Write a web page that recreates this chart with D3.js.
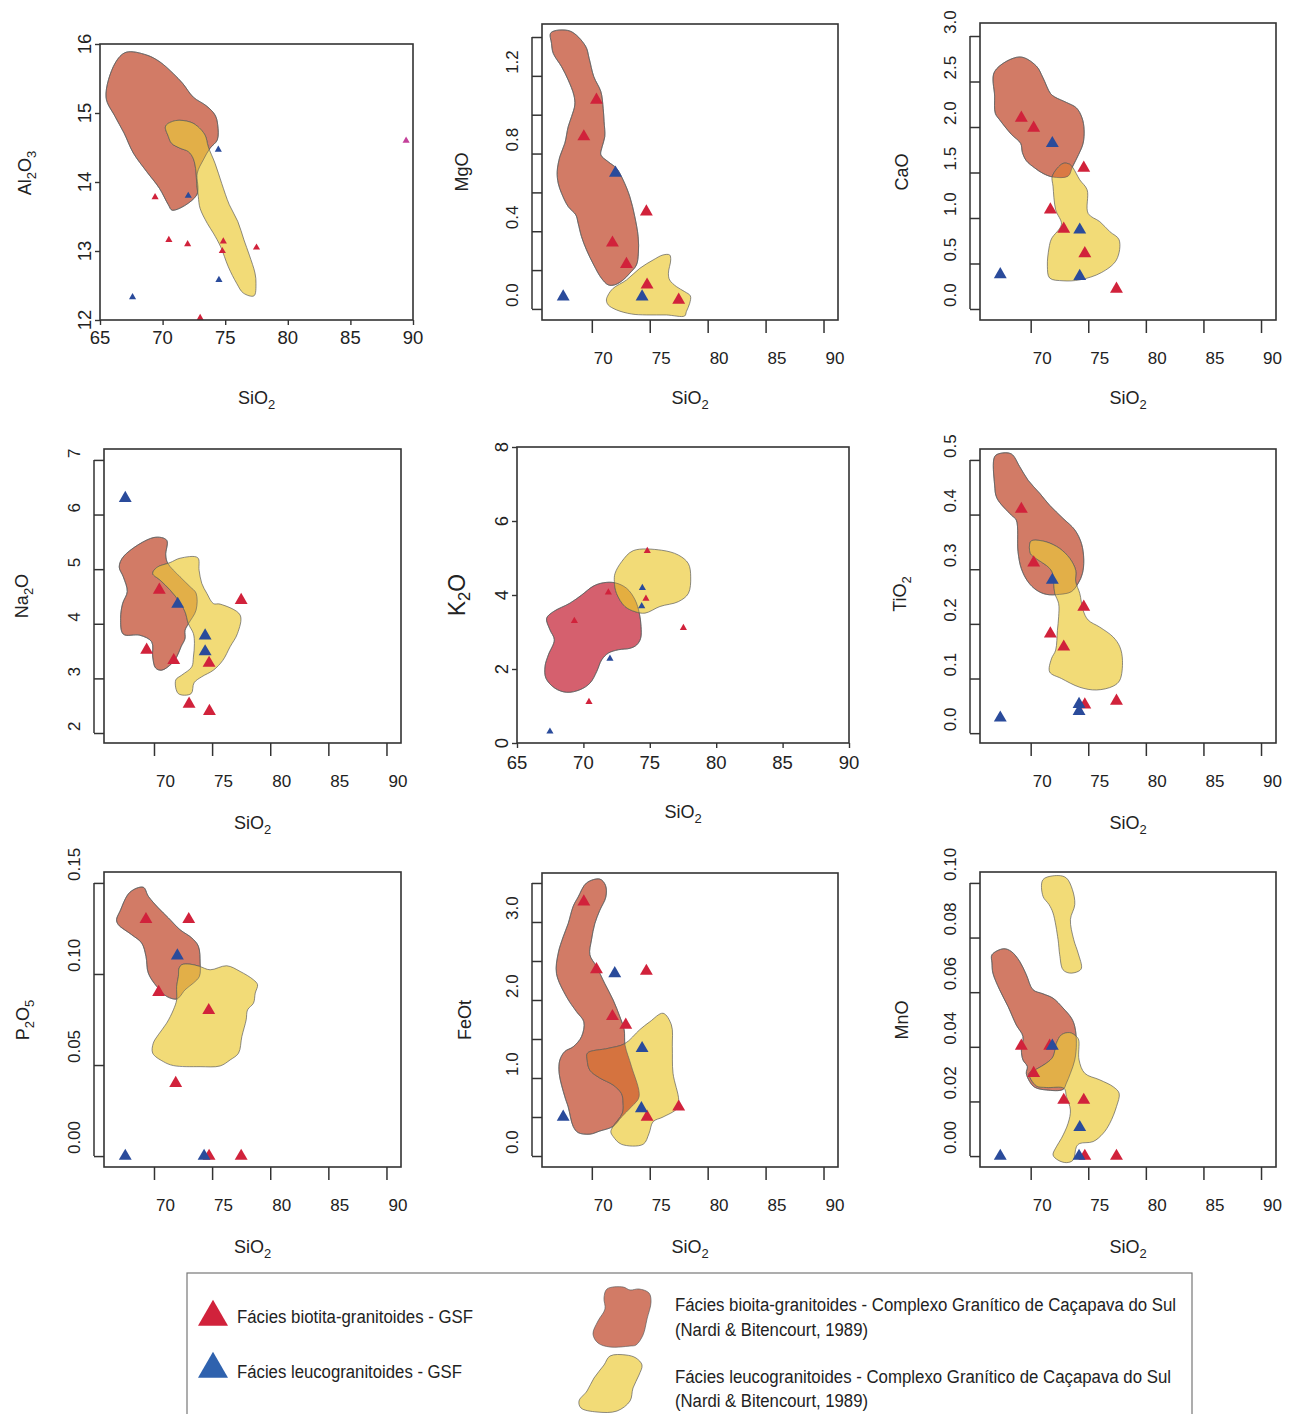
<!DOCTYPE html>
<html>
<head>
<meta charset="utf-8">
<title>Harker diagrams - GSF</title>
<script src="https://d3js.org/d3.v7.min.js"></script>
<style>
  body { margin: 0; background: #fff; }
  svg text { font-family: "Liberation Sans", Arial, Helvetica, sans-serif; fill: #222; }
</style>
</head>
<body>
<svg width="1298" height="1414"></svg>
<script>

// tick values
var siTicksA = [70, 75, 80, 85, 90];
var siTicksB = [65, 70, 75, 80, 85, 90];
var al2o3Ticks = [12, 13, 14, 15, 16];
var mgoTicks = [0, 0.2, 0.4, 0.6, 0.8, 1.0, 1.2, 1.4];
var mgoLabels = [0, 0.4, 0.8, 1.2];
var caoTicks = [0, 0.5, 1.0, 1.5, 2.0, 2.5, 3.0];
var na2oTicks = [2, 3, 4, 5, 6, 7];
var k2oTicks = [0, 2, 4, 6, 8];
var tio2Ticks = [0, 0.1, 0.2, 0.3, 0.4, 0.5];
var p2o5Ticks = [0, 0.05, 0.10, 0.15];
var feotTicks = [0, 0.5, 1.0, 1.5, 2.0, 2.5, 3.0, 3.5];
var feotLabels = [0, 1, 2, 3];
var mnoTicks = [0, 0.02, 0.04, 0.06, 0.08, 0.10];

// samples [SiO2, oxide] - GSF
var al2o3Bio = [[69.4,13.78],[70.5,13.16],[72.0,13.1],[74.85,13.14],[74.77,13.0],[77.5,13.05],[73.0,12.03]];
var al2o3Leuco = [[67.6,12.33],[72.05,13.8],[74.45,14.47],[74.5,12.58]];
var al2o3Other = [[89.45,14.6]];
var mgoBio = [[70.4,1.076],[69.31,0.887],[74.71,0.50],[71.78,0.34],[72.99,0.23],[74.77,0.124],[77.5,0.046]];
var mgoLeuco = [[72.04,0.70],[74.34,0.063],[67.53,0.063]];
var caoBio = [[69.19,2.10],[70.26,1.99],[74.61,1.55],[71.71,1.09],[72.87,0.88],[74.7,0.61],[77.45,0.22]];
var caoLeuco = [[71.88,1.82],[74.26,0.87],[67.36,0.38],[74.26,0.36]];
var na2oBio = [[70.46,4.62],[77.5,4.43],[69.37,3.52],[71.7,3.33],[74.74,3.28],[73.02,2.53],[74.77,2.40]];
var na2oLeuco = [[67.53,6.30],[72.04,4.36],[74.4,3.78],[74.4,3.49]];
var k2oBio = [[74.81,5.19],[71.88,4.07],[74.71,3.90],[69.32,3.30],[77.53,3.11],[70.42,1.11]];
var k2oLeuco = [[74.44,4.19],[74.39,3.70],[72.0,2.28],[67.48,0.31]];
var tio2Bio = [[69.19,0.410],[70.26,0.312],[74.61,0.231],[71.71,0.182],[72.87,0.158],[77.45,0.059],[74.7,0.052]];
var tio2Leuco = [[71.88,0.280],[74.2,0.053],[74.2,0.040],[67.36,0.028]];
var p2o5Bio = [[69.31,0.130],[72.99,0.130],[70.4,0.090],[74.71,0.080],[71.87,0.040],[74.74,0],[77.5,0]];
var p2o5Leuco = [[72.01,0.110],[67.53,0],[74.31,0]];
var feotBio = [[69.31,3.26],[70.4,2.39],[74.71,2.37],[71.78,1.79],[72.93,1.68],[74.77,0.50],[77.5,0.63]];
var feotLeuco = [[71.98,2.34],[74.34,1.38],[74.28,0.61],[67.53,0.50]];
var mnoBio = [[69.19,0.0403],[71.65,0.0403],[70.26,0.0303],[72.87,0.0205],[74.61,0.0205],[74.7,0],[77.45,0]];
var mnoLeuco = [[71.88,0.0403],[74.26,0.0105],[67.36,0],[74.2,0]];

// fields of Nardi & Bitencourt (1989)
var al2o3BioField = [[65.48,15.23],[66.2,15.72],[67.08,15.88],[68.73,15.84],[69.79,15.74],[70.86,15.57],[71.6,15.43],[72.45,15.23],[73.52,15.1],[74.19,14.97],[74.4,14.83],[74.37,14.61],[73.79,14.49],[73.25,14.32],[72.77,14.13],[72.72,13.81],[70.78,13.59],[70.46,13.67],[69.74,13.91],[68.73,14.15],[67.66,14.42],[66.92,14.71],[66.2,14.95]];
var al2o3LeucoField = [[[70.24,14.81],[71.04,14.89],[72.19,14.87],[72.77,14.81],[73.39,14.68],[73.65,14.51],[74.19,14.27],[74.72,13.98],[75.33,13.67],[76.0,13.43],[76.5,13.16],[76.93,12.94],[77.38,12.68],[77.46,12.53],[77.3,12.35],[76.45,12.39],[75.92,12.53],[75.25,12.77],[74.64,13.06],[74.05,13.26],[73.57,13.4],[72.99,13.62],[72.85,13.79],[72.72,13.98],[72.67,14.15],[72.45,14.34],[72.06,14.44],[71.39,14.49],[70.72,14.56],[70.46,14.66]]];
var mgoBioField = [[66.47,1.422],[68.1,1.431],[69.45,1.354],[69.77,1.29],[70.17,1.196],[70.78,1.119],[70.98,1.033],[71.06,0.964],[71.12,0.887],[70.89,0.835],[70.78,0.793],[71.41,0.758],[72.13,0.724],[72.7,0.664],[73.28,0.578],[73.71,0.475],[74.0,0.372],[74.02,0.287],[73.85,0.226],[73.28,0.184],[72.7,0.149],[71.98,0.124],[71.41,0.124],[70.83,0.158],[70.17,0.226],[69.54,0.304],[69.11,0.372],[68.82,0.441],[68.62,0.484],[67.96,0.527],[67.39,0.595],[67.1,0.647],[67.01,0.707],[67.24,0.784],[67.67,0.853],[67.96,0.938],[68.25,0.99],[68.53,1.05],[68.45,1.101],[67.96,1.179],[67.39,1.247],[66.67,1.316],[66.52,1.367]];
var mgoLeucoField = [[[71.41,0.072],[71.84,0.106],[72.99,0.149],[74.14,0.209],[75.29,0.252],[76.15,0.278],[76.72,0.278],[76.81,0.252],[76.61,0.184],[76.72,0.149],[77.3,0.115],[78.02,0.089],[78.51,0.067],[78.45,0.029],[78.16,-0.014],[78.02,-0.036],[76.44,-0.031],[74.71,-0.031],[73.42,-0.026],[72.13,-0.005],[71.41,0.021],[71.26,0.046]]];
var caoBioField = [[66.87,2.61],[69.04,2.77],[70.49,2.67],[71.07,2.54],[71.71,2.37],[72.09,2.33],[73.1,2.27],[73.97,2.21],[74.46,2.10],[74.64,1.97],[74.55,1.82],[74.17,1.70],[73.62,1.56],[73.25,1.46],[71.94,1.45],[71.07,1.49],[70.35,1.55],[69.62,1.63],[69.28,1.72],[69.13,1.82],[68.32,1.92],[67.3,2.08],[66.93,2.15],[66.87,2.34]];
var caoLeucoField = [[[71.88,1.46],[72.81,1.60],[73.39,1.59],[73.68,1.55],[74.26,1.42],[74.9,1.31],[74.99,1.05],[76.0,0.96],[76.87,0.85],[77.68,0.76],[77.45,0.54],[76.14,0.40],[74.26,0.32],[72.81,0.31],[71.65,0.34],[71.45,0.47],[71.59,0.67],[71.8,0.77],[72.67,0.93],[72.17,1.09],[71.94,1.35]]];
var na2oBioField = [[67.41,5.24],[70.0,5.58],[71.09,5.53],[71.01,5.26],[71.18,5.11],[72.24,4.86],[73.1,4.68],[73.62,4.56],[73.62,4.25],[72.96,4.00],[72.67,3.88],[72.67,3.73],[72.33,3.58],[71.95,3.39],[71.52,3.27],[70.66,3.15],[70.14,3.19],[69.89,3.39],[69.8,3.67],[68.79,3.79],[67.36,3.81],[67.13,4.10],[67.3,4.37],[67.7,4.59],[67.36,4.86],[67.01,5.04]];
var na2oLeucoField = [[[69.89,4.92],[70.23,5.03],[71.38,5.12],[72.24,5.20],[73.76,5.21],[73.88,4.98],[74.11,4.74],[74.54,4.56],[75.11,4.37],[75.69,4.36],[77.41,4.16],[77.18,3.82],[76.55,3.58],[75.92,3.33],[75.11,3.15],[74.11,3.03],[73.45,2.92],[73.19,2.72],[72.1,2.72],[71.87,2.97],[72.39,3.06],[73.25,3.21],[73.39,3.39],[73.48,3.64],[73.39,3.82],[72.96,4.00],[72.67,4.22],[72.1,4.43],[71.38,4.62],[70.52,4.80]]];
var k2oBioField = [[67.23,3.37],[67.74,3.55],[68.99,3.78],[69.87,4.0],[70.75,4.24],[71.5,4.33],[72.38,4.33],[73.26,4.18],[73.89,3.87],[74.21,3.51],[74.34,3.15],[74.31,2.83],[74.01,2.65],[73.51,2.56],[72.63,2.52],[71.88,2.43],[71.38,2.25],[71.0,1.93],[70.5,1.62],[69.74,1.44],[68.74,1.37],[67.86,1.48],[67.18,1.75],[67.11,2.07],[67.36,2.38],[67.81,2.79],[67.48,3.06]];
var k2oLeucoField = [[[72.38,4.58],[72.88,4.90],[73.76,5.20],[75.89,5.21],[77.15,5.08],[77.9,4.85],[78.08,4.49],[77.9,4.04],[77.15,3.82],[75.77,3.69],[74.64,3.51],[73.89,3.55],[73.13,3.69],[72.5,4.04],[72.33,4.36]]];
var tio2BioField = [[66.87,0.506],[67.36,0.512],[68.32,0.511],[69.04,0.488],[69.77,0.463],[70.78,0.439],[71.65,0.417],[72.81,0.393],[73.83,0.372],[74.41,0.347],[74.61,0.317],[74.49,0.292],[74.12,0.274],[73.54,0.259],[72.52,0.254],[71.36,0.254],[70.49,0.262],[69.77,0.277],[69.19,0.301],[68.9,0.332],[68.75,0.390],[68.32,0.399],[67.07,0.430],[66.87,0.454]];
var tio2LeucoField = [[[69.97,0.350],[70.2,0.353],[71.36,0.350],[72.52,0.338],[73.39,0.320],[73.91,0.298],[73.91,0.277],[74.26,0.256],[74.55,0.225],[74.99,0.207],[76.0,0.194],[77.16,0.176],[77.74,0.158],[77.97,0.133],[77.74,0.097],[77.16,0.086],[75.71,0.079],[74.26,0.084],[72.67,0.100],[71.65,0.112],[71.8,0.136],[72.17,0.152],[72.32,0.188],[72.43,0.213],[72.43,0.237],[72.09,0.256],[72.0,0.274],[71.86,0.295],[71.36,0.307],[70.64,0.317],[69.97,0.329]]];
var p2o5BioField = [[66.78,0.1298],[67.07,0.1344],[67.93,0.1449],[69.08,0.1476],[69.51,0.1427],[70.37,0.1363],[71.24,0.1308],[72.24,0.1243],[73.25,0.1198],[73.82,0.1152],[73.97,0.1060],[73.91,0.0987],[73.39,0.0950],[72.67,0.0913],[72.24,0.0877],[71.95,0.0862],[71.09,0.0877],[70.23,0.0932],[69.51,0.1005],[69.31,0.1097],[68.94,0.1170],[68.07,0.1216],[66.93,0.1271]];
var p2o5LeucoField = [[[72.16,0.1032],[72.39,0.1051],[73.1,0.1054],[73.91,0.1042],[74.83,0.1023],[76.26,0.1045],[77.41,0.1014],[78.56,0.0968],[78.91,0.0941],[78.71,0.0895],[78.56,0.0840],[78.05,0.0803],[77.93,0.0748],[77.56,0.0657],[77.27,0.0565],[76.55,0.0528],[75.69,0.0495],[73.97,0.0491],[71.67,0.0497],[70.8,0.0519],[69.89,0.0565],[69.94,0.0620],[70.37,0.0666],[71.09,0.0730],[71.67,0.0803],[71.95,0.0858],[71.95,0.0932],[72.1,0.0987]]];
var feotBioField = [[68.82,3.32],[69.54,3.50],[70.69,3.55],[71.18,3.47],[71.21,3.32],[70.69,3.15],[70.26,2.98],[69.97,2.77],[69.83,2.58],[70.4,2.43],[71.12,2.21],[71.84,2.00],[72.41,1.79],[72.79,1.62],[72.87,1.42],[73.42,1.15],[74.08,0.76],[73.42,0.63],[72.56,0.50],[71.84,0.38],[70.69,0.32],[69.83,0.28],[68.82,0.30],[68.39,0.38],[67.96,0.63],[67.67,0.76],[67.18,1.06],[67.24,1.23],[67.67,1.34],[68.39,1.40],[69.11,1.53],[69.31,1.72],[68.68,1.85],[67.82,2.04],[66.95,2.34],[67.1,2.60],[67.53,2.81],[67.96,2.98],[68.39,3.20]];
var feotLeucoField = [[[69.63,1.32],[71.41,1.38],[72.84,1.44],[74.14,1.62],[75.0,1.72],[76.15,1.83],[76.87,1.68],[76.95,1.40],[77.01,1.06],[77.5,0.72],[77.36,0.61],[76.15,0.50],[75.29,0.44],[74.94,0.29],[74.43,0.15],[72.56,0.15],[71.84,0.25],[71.64,0.31],[71.84,0.38],[72.64,0.55],[72.7,0.68],[72.56,0.80],[71.84,0.91],[70.69,1.00],[69.83,1.10],[69.6,1.23]]];
var mnoBioField = [[66.64,0.0737],[67.65,0.0759],[68.32,0.0749],[69.04,0.0713],[69.62,0.0664],[70.2,0.0609],[71.07,0.0594],[71.94,0.0578],[72.81,0.0542],[73.54,0.0505],[73.83,0.0474],[73.97,0.0413],[73.83,0.0352],[73.45,0.0303],[73.1,0.0267],[72.81,0.0244],[71.36,0.0242],[70.35,0.0252],[69.91,0.0273],[69.62,0.0303],[69.71,0.0328],[69.33,0.0352],[69.19,0.0389],[69.33,0.0438],[68.75,0.0480],[68.03,0.0548],[67.3,0.0609],[66.72,0.0670],[66.64,0.0707]];
var mnoLeucoField = [
  [[69.86,0.0303],[70.49,0.0318],[71.36,0.0340],[71.94,0.0364],[72.23,0.0413],[72.67,0.0444],[73.39,0.0452],[73.97,0.0438],[74.17,0.0425],[74.2,0.0352],[74.7,0.0303],[76.0,0.0279],[77.16,0.0254],[77.68,0.0230],[77.45,0.0181],[76.87,0.0120],[76.29,0.0083],[75.42,0.0053],[74.26,0.0046],[73.97,0.0034],[73.68,-0.0015],[73.1,-0.0024],[72.38,-0.0015],[71.94,0.0004],[72.23,0.0034],[72.67,0.0065],[73.25,0.0120],[73.45,0.0169],[73.1,0.0218],[72.9,0.0248],[71.36,0.0251],[70.49,0.0257]],
  [[71.07,0.1012],[72.38,0.1027],[73.1,0.1018],[73.62,0.0976],[73.83,0.0921],[73.45,0.0866],[73.74,0.0792],[74.12,0.0743],[74.41,0.0688],[74.12,0.0676],[73.39,0.0670],[72.81,0.0682],[72.52,0.0737],[72.38,0.0792],[71.94,0.0890],[71.59,0.0921],[71.07,0.0951]]
];

// legend text
var legendPoints = ["Fácies biotita-granitoides - GSF", "Fácies leucogranitoides - GSF"];
var legendFields = [
  ["Fácies bioita-granitoides - Complexo Granítico de Caçapava do Sul", "(Nardi & Bitencourt, 1989)"],
  ["Fácies leucogranitoides - Complexo Granítico de Caçapava do Sul", "(Nardi & Bitencourt, 1989)"]
];

var bioCol = "#D27B66", bioColK = "#D5606E", leucoCol = "#F2DB77";
var redTri = "#D1223B", blueTri = "#2A4B9B", otherTri = "#C4409A";
var edge = "#5d5d5d";

var f1 = d3.format(".1f"), f2 = d3.format(".2f"), f0 = d3.format("d");

// panel layout (box = left, top, right, bottom in px)
var panels = [
  {kind:"B", box:[100,44,413,320], xd:[65,90], yd:[12,16], yt:al2o3Ticks, yl:al2o3Ticks, fmt:f0, title:"Al_2O_3", tx:31, ty:173, xtb:84, fs:18,
   bio:al2o3Bio, leuco:al2o3Leuco, other:al2o3Other, bioField:al2o3BioField, leucoField:al2o3LeucoField, bioFill:bioCol, overlap:"#E2AF48", mark:22},
  {kind:"A", box:[542,24,838,320], xd:[65.7,91.25], yd:[-0.057,1.467], yt:mgoTicks, yl:mgoLabels, fmt:f1, title:"MgO", tx:468, ty:172, xtb:84,
   bio:mgoBio, leuco:mgoLeuco, bioField:mgoBioField, leucoField:mgoLeucoField, bioFill:bioCol, overlap:"#E2AF48", mark:72},
  {kind:"A", box:[980,23,1276,320], xd:[65.6,91.3], yd:[-0.121,3.143], yt:caoTicks, yl:caoTicks, fmt:f1, title:"CaO", tx:908, ty:172, xtb:84,
   bio:caoBio, leuco:caoLeuco, bioField:caoBioField, leucoField:caoLeucoField, bioFill:bioCol, overlap:"#DA7944", mark:72},
  {kind:"A", box:[104,449,401,743], xd:[65.7,91.25], yd:[1.817,7.2], yt:na2oTicks, yl:na2oTicks, fmt:f0, title:"Na_2O", tx:28, ty:596, xtb:86,
   bio:na2oBio, leuco:na2oLeuco, bioField:na2oBioField, leucoField:na2oLeucoField, bioFill:bioCol, overlap:"#E2AF48", mark:72},
  {kind:"B", box:[517,447,849,743], xd:[65,90], yd:[0,8], yt:k2oTicks, yl:k2oTicks, fmt:f0, title:"K_2O", tx:465, ty:595, xtb:75, fs:23,
   bio:k2oBio, leuco:k2oLeuco, bioField:k2oBioField, leucoField:k2oLeucoField, bioFill:bioColK, overlap:"#E4AE40", mark:22},
  {kind:"A", box:[980,449,1276,743], xd:[65.6,91.3], yd:[-0.018,0.52], yt:tio2Ticks, yl:tio2Ticks, fmt:f1, title:"TiO_2", tx:906, ty:594, xtb:86,
   bio:tio2Bio, leuco:tio2Leuco, bioField:tio2BioField, leucoField:tio2LeucoField, bioFill:bioCol, overlap:"#E2AF48", mark:72},
  {kind:"A", box:[104,872,401,1167], xd:[65.7,91.25], yd:[-0.006,0.156], yt:p2o5Ticks, yl:p2o5Ticks, fmt:f2, title:"P_2O_5", tx:29, ty:1020, xtb:86,
   bio:p2o5Bio, leuco:p2o5Leuco, bioField:p2o5BioField, leucoField:p2o5LeucoField, bioFill:bioCol, overlap:"#E2AF48", mark:72},
  {kind:"A", box:[542,873,838,1167], xd:[65.7,91.25], yd:[-0.141,3.628], yt:feotTicks, yl:feotLabels, fmt:f1, title:"FeOt", tx:471, ty:1020, xtb:86,
   bio:feotBio, leuco:feotLeuco, bioField:feotBioField, leucoField:feotLeucoField, bioFill:bioCol, overlap:"#D5733F", mark:72},
  {kind:"A", box:[980,872,1276,1167], xd:[65.6,91.3], yd:[-0.004,0.104], yt:mnoTicks, yl:mnoTicks, fmt:f2, title:"MnO", tx:908, ty:1020, xtb:86,
   bio:mnoBio, leuco:mnoLeuco, bioField:mnoBioField, leucoField:mnoLeucoField, bioFill:bioCol, overlap:"#E2AF48", mark:72}
];

var svg = d3.select("svg");
svg.append("rect").attr("width", 1298).attr("height", 1414).attr("fill", "#fff");

// write "Al_2O_3" with subscripts
function subText(sel, str) {
  var parts = str.split(/(_\d)/).filter(function(s) { return s.length; });
  var down = false;
  parts.forEach(function(s) {
    var t = sel.append("tspan");
    if (s[0] === "_") {
      t.text(s.slice(1)).attr("dy", 5).style("font-size", "0.72em");
      down = true;
    } else {
      t.text(s).attr("dy", down ? -5 : 0);
      down = false;
    }
  });
}

panels.forEach(function(p, i) {
  var x = d3.scaleLinear().domain(p.xd).range([p.box[0], p.box[2]]);
  var y = d3.scaleLinear().domain(p.yd).range([p.box[3], p.box[1]]);
  var g = svg.append("g");
  var shape = d3.line().x(function(d) { return x(d[0]); }).y(function(d) { return y(d[1]); })
      .curve(d3.curveCatmullRomClosed.alpha(0.5));

  // fields
  g.append("clipPath").attr("id", "bioclip" + i).append("path").attr("d", shape(p.bioField));
  g.append("path").attr("d", shape(p.bioField)).attr("fill", p.bioFill)
    .attr("stroke", edge).attr("stroke-width", 0.7);
  p.leucoField.forEach(function(poly) {
    g.append("path").attr("d", shape(poly)).attr("fill", leucoCol)
      .attr("stroke", edge).attr("stroke-width", 0.7);
    g.append("path").attr("d", shape(poly)).attr("fill", p.overlap)
      .attr("stroke", edge).attr("stroke-width", 0.7)
      .attr("clip-path", "url(#bioclip" + i + ")");
  });
  g.append("path").attr("d", shape(p.bioField)).attr("fill", "none")
    .attr("stroke", edge).attr("stroke-width", 0.6);

  // samples
  var tri = d3.symbol().type(d3.symbolTriangle).size(p.mark);
  [[p.bio, redTri], [p.leuco, blueTri], [p.other || [], otherTri]].forEach(function(s) {
    g.selectAll(null).data(s[0]).join("path")
      .attr("transform", function(d) { return "translate(" + x(d[0]) + "," + y(d[1]) + ")"; })
      .attr("d", tri)
      .attr("fill", s[1]);
  });

  // frame
  g.append("rect").attr("x", p.box[0]).attr("y", p.box[1])
    .attr("width", p.box[2] - p.box[0]).attr("height", p.box[3] - p.box[1])
    .attr("fill", "none").attr("stroke", "#333").attr("stroke-width", 1.6);

  if (p.kind === "A") {
    var ax = g.append("g").attr("transform", "translate(0," + p.box[3] + ")")
      .call(d3.axisBottom(x).tickValues(siTicksA).tickSize(13).tickFormat(""));
    ax.select(".domain").remove();
    ax.selectAll("line").attr("stroke", "#333").attr("stroke-width", 1.5);
    g.selectAll(null).data(siTicksA).join("text")
      .attr("x", function(d) { return x(d) + 2; })
      .attr("y", p.box[3] + 44)
      .style("font-size", "17px")
      .text(function(d) { return d; });

    var ay = g.append("g").attr("transform", "translate(" + (p.box[0] - 10) + ",0)")
      .call(d3.axisRight(y).tickValues(p.yt).tickSize(10).tickFormat(""));
    ay.select(".domain").remove();
    ay.selectAll("line").attr("stroke", "#333").attr("stroke-width", 1.5);
    g.append("line").attr("x1", p.box[0] - 10).attr("x2", p.box[0] - 10)
      .attr("y1", y(d3.min(p.yt))).attr("y2", y(d3.max(p.yt)))
      .attr("stroke", "#333").attr("stroke-width", 1.5);
    g.selectAll(null).data(p.yl).join("text")
      .attr("transform", function(d) { return "translate(" + (p.box[0] - 24) + "," + (y(d) - 2) + ") rotate(-90)"; })
      .style("font-size", "17px")
      .text(p.fmt);
  } else {
    var bx = g.append("g").attr("transform", "translate(0," + p.box[3] + ")")
      .call(d3.axisBottom(x).tickValues(siTicksB).tickSize(5).tickFormat(""));
    bx.select(".domain").remove();
    bx.selectAll("line").attr("stroke", "#333").attr("stroke-width", 1.4);
    var by = g.append("g").attr("transform", "translate(" + p.box[0] + ",0)")
      .call(d3.axisLeft(y).tickValues(p.yt).tickSize(5).tickFormat(""));
    by.select(".domain").remove();
    by.selectAll("line").attr("stroke", "#333").attr("stroke-width", 1.4);
    g.selectAll(null).data(siTicksB).join("text")
      .attr("x", function(d) { return x(d); })
      .attr("y", p.box[3] + (p.fs > 20 ? 26 : 24))
      .attr("text-anchor", "middle")
      .style("font-size", "18.5px")
      .text(function(d) { return d; });
    g.selectAll(null).data(p.yl).join("text")
      .attr("transform", function(d) { return "translate(" + (p.box[0] - 9) + "," + y(d) + ") rotate(-90)"; })
      .attr("text-anchor", "middle")
      .style("font-size", "18.5px")
      .text(p.fmt);
  }

  // axis titles
  var xt = g.append("text").attr("x", (p.box[0] + p.box[2]) / 2).attr("y", p.box[3] + p.xtb)
    .attr("text-anchor", "middle").style("font-size", "18px");
  subText(xt, "SiO_2");
  var yt = g.append("text").attr("transform", "translate(" + p.tx + "," + p.ty + ") rotate(-90)")
    .attr("text-anchor", "middle").style("font-size", (p.fs || 18) + "px");
  subText(yt, p.title);
});

// legend
var lg = svg.append("g");
lg.append("rect").attr("x", 187).attr("y", 1273).attr("width", 1005).attr("height", 160)
  .attr("fill", "none").attr("stroke", "#777").attr("stroke-width", 1.2);

var bigTri = d3.symbol().type(d3.symbolTriangle).size(390);
lg.append("path").attr("d", bigTri).attr("transform", "translate(213,1317)").attr("fill", redTri);
lg.append("path").attr("d", bigTri).attr("transform", "translate(213,1369)").attr("fill", "#2F62AE");

var narrow = '"Liberation Sans Narrow", "Arial Narrow", "Liberation Sans", Arial, sans-serif';
[[legendPoints[0], 237, 1323, 236], [legendPoints[1], 237, 1378, 225],
 [legendFields[0][0], 675, 1311, 501], [legendFields[0][1], 675, 1336, 193],
 [legendFields[1][0], 675, 1383, 496], [legendFields[1][1], 675, 1407, 193]].forEach(function(t) {
  lg.append("text").attr("x", t[1]).attr("y", t[2])
    .attr("textLength", t[3]).attr("lengthAdjust", "spacingAndGlyphs")
    .style("font-family", narrow).style("font-size", "18px")
    .text(t[0]);
});

// legend swatches (outline of a field, relative to its anchor)
var blobA = [[0,0],[16,-2],[23,1],[32,0],[42,4],[44,13],[40,30],[36,46],[29,56],[23,57],[3,58],[-9,54],[-14,45],[-9,32],[-2,20],[-3,9]];
var blobB = [[0,0],[16,-1],[26,2],[32,9],[29,19],[23,32],[20,45],[7,55],[-13,56],[-29,52],[-31,45],[-23,35],[-16,22],[-6,9]];
var swatch = d3.line().curve(d3.curveCatmullRomClosed.alpha(0.5));
lg.append("path").attr("d", swatch(blobA)).attr("transform", "translate(607,1289)")
  .attr("fill", bioCol).attr("stroke", edge).attr("stroke-width", 0.7);
lg.append("path").attr("d", swatch(blobB)).attr("transform", "translate(610,1356)")
  .attr("fill", leucoCol).attr("stroke", edge).attr("stroke-width", 0.7);

</script>
</body>
</html>
